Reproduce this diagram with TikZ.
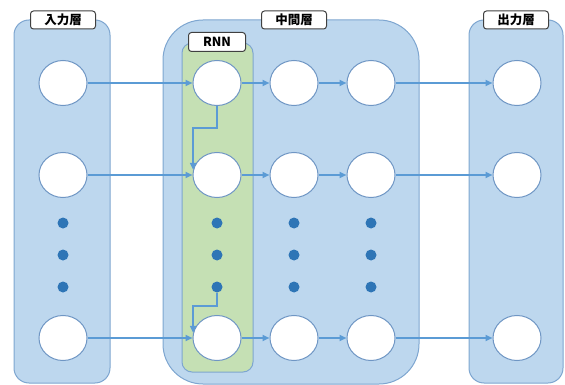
\documentclass[tikz,border=0pt]{standalone}
\usepackage{fontspec}
\newfontfamily\jp{Noto Sans CJK JP}
\usetikzlibrary{arrows.meta,shapes.geometric}
\definecolor{panelfill}{HTML}{BDD7EE}
\definecolor{panelline}{HTML}{7EA6D0}
\definecolor{greenfill}{HTML}{C5E0B4}
\definecolor{arrowblue}{HTML}{5B9BD5}
\definecolor{dotblue}{HTML}{2E75B6}
\definecolor{circline}{HTML}{6F96C4}
\tikzset{
  panel/.style={draw=panelline, fill=panelfill, line width=1pt},
  rnnbox/.style={draw=panelline, fill=greenfill, line width=1pt, rounded corners=10pt},
  unit/.style={ellipse, draw=circline, fill=white, line width=1pt, minimum width=48pt, minimum height=45pt, inner sep=0pt},
  dotn/.style={circle, fill=dotblue, minimum size=11pt, inner sep=0pt},
  lbl/.style={draw=black!75, fill=white, line width=1pt, rounded corners=3pt, minimum width=65pt, minimum height=18pt, inner sep=0pt, font=\jp\bfseries\fontsize{12.5}{12.5}\selectfont},
  conn/.style={draw=arrowblue, line width=1.8pt, -{Triangle[length=7pt,width=6pt]}},
}
\begin{document}
\begin{tikzpicture}[x=1pt,y=-1pt]
\useasboundingbox (0,0) rectangle (565,385);
% panels
\path[panel, rounded corners=15pt] (14,20) rectangle (110,383);
\path[panel, rounded corners=40pt] (163,20) rectangle (419,384);
\path[panel, rounded corners=15pt] (469,20) rectangle (563,383);
\path[rnnbox] (182,43) rectangle (253,372);
% units
\foreach \c/\x in {i/63, a/217, b/294, c/371, o/517}{
  \node[unit] (\c1) at (\x,83) {};
  \node[unit] (\c2) at (\x,175) {};
  \node[unit] (\c3) at (\x,338) {};
}
% dots
\foreach \c/\x in {i/63, a/217, b/294, c/371}{
  \node[dotn] (\c d1) at (\x,223) {};
  \node[dotn] (\c d2) at (\x,255) {};
  \node[dotn] (\c d3) at (\x,287) {};
}
% connectors
\foreach \r in {1,2,3}{
  \draw[conn] (i\r) -- (a\r);
  \draw[conn] (a\r) -- (b\r);
  \draw[conn] (b\r) -- (c\r);
  \draw[conn] (c\r) -- (o\r);
}
\draw[conn] (a1.south) -- ++(0,22) -| (a2.168);
\draw[conn] (ad3.south) -- ++(0,13) -| (a3.168);
% labels
\node[lbl] (lin) at (63,20) {入力層};
\node[lbl] (lmid) at (294,20) {中間層};
\node[lbl] (lout) at (516,20) {出力層};
\node[lbl, minimum width=57pt, minimum height=19pt] (lrnn) at (217,42) {RNN};
\end{tikzpicture}
\end{document}
